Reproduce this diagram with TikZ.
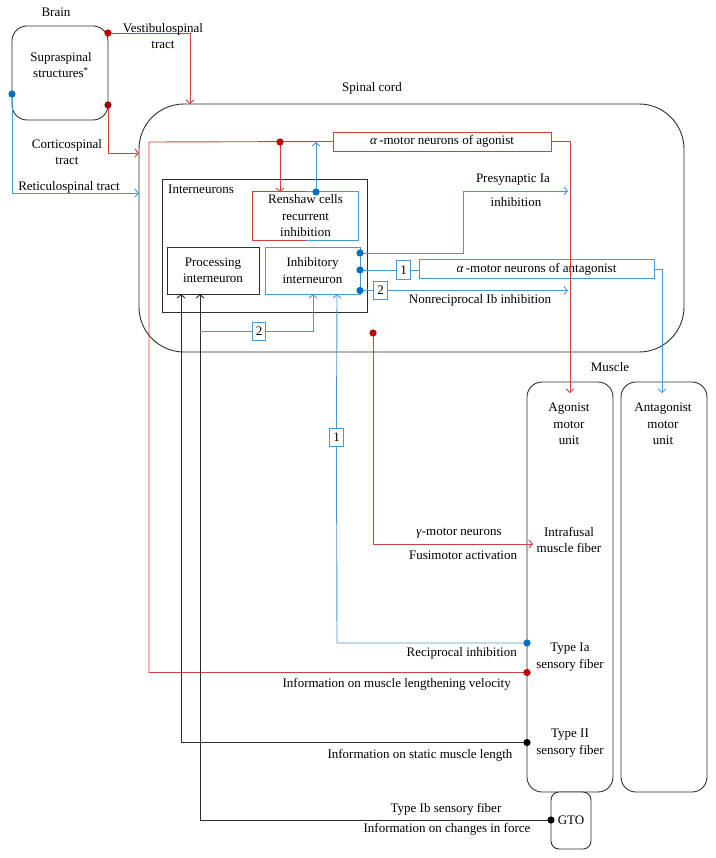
\documentclass[tikz,border=0pt]{standalone}
\usepackage{fontspec}
\setmainfont{Liberation Serif}
\usetikzlibrary{arrows.meta}
\definecolor{rl}{RGB}{208,62,62}
\definecolor{rd}{RGB}{195,0,0}
\definecolor{rdd}{RGB}{160,0,0}
\definecolor{bl}{RGB}{72,152,212}
\definecolor{bd}{RGB}{0,112,192}
\definecolor{kl}{RGB}{45,45,45}
\tikzset{
  ln/.style={line width=0.9pt},
  arr/.style={-{Straight Barb[length=3.5pt,width=8pt,line width=0.9pt]}},
  box/.style={draw=kl, line width=0.9pt, inner sep=0pt, align=center},
  rbox/.style={draw=rl, line width=0.9pt, inner sep=0pt, align=center},
  bbox/.style={draw=bl, line width=0.9pt, inner sep=0pt, align=center},
  numbox/.style={draw=bl, line width=0.9pt, inner sep=0pt, minimum width=13.5pt, minimum height=18.5pt, fill=white},
  lab/.style={inner sep=0pt, align=center},
  dotr/.style={fill=rd, draw=none},
}
\newcommand{\dotat}[2]{\fill[#1] (#2) circle (3.6pt);}
\begin{document}
\begin{tikzpicture}[x=1pt,y=-1pt,font=\fontsize{13}{16.5}\selectfont]
\useasboundingbox (0,0) rectangle (715,858);

% ---------- boxes ----------
\node[box, rounded corners=15pt, minimum width=96pt, minimum height=94pt] (supra) at (60,73) {};
\node[box, rounded corners=45pt, minimum width=545pt, minimum height=248pt] (spinal) at (411.5,228) {};
\node[rbox, fill=white, minimum width=218pt, minimum height=19pt] (agbox) at (442,141.5) {\textit{α}\,-motor neurons of agonist};
\node[box, minimum width=205pt, minimum height=133pt] (inter) at (264.5,245.5) {};
\node[lab, anchor=west] (interlab) at (168,189) {Interneurons};
\node[lab, minimum width=105pt, minimum height=48pt] (ren) at (305.5,216) {Renshaw cells\\recurrent\\inhibition};
\draw[ln, rl] (ren.north) -- (ren.north west) -- (ren.south west) -- (ren.south);
\draw[ln, bl] (ren.north) -- (ren.north east) -- (ren.south east) -- (ren.south);
\node[box, minimum width=92pt, minimum height=47pt] (proc) at (213,270.5) {Processing\\interneuron};
\node[bbox, minimum width=95pt, minimum height=47pt] (inhib) at (312.5,270.5) {Inhibitory\\interneuron};
\node[bbox, fill=white, minimum width=235pt, minimum height=19pt] (antbox) at (536.5,269) {\textit{α}\,-motor neurons of antagonist};
\node[numbox] (n1a) at (403.5,270) {1};
\node[numbox] (n2a) at (380.5,290.5) {2};
\node[numbox] (n2b) at (259,331.5) {2};
\node[numbox] (n1b) at (336.5,437.5) {1};
\node[box, rounded corners=15pt, minimum width=86pt, minimum height=410pt] (agmu) at (570,587) {};
\node[box, rounded corners=15pt, minimum width=86pt, minimum height=410pt] (antmu) at (664,587) {};
\node[box, fill=white, rounded corners=8pt, minimum width=40pt, minimum height=57pt] (gto) at (571,820.5) {GTO};

% ---------- coordinates ----------
\coordinate (vs) at (108,33);
\coordinate (cs) at (108,105);
\coordinate (rs) at (12,94);
\coordinate (rdot) at (280,142);
\coordinate (bdot) at (316,192);
\coordinate (i1) at (360,253);
\coordinate (i2) at (360,270);
\coordinate (i3) at (360,290.5);
\coordinate (iaB) at (527,643);
\coordinate (iaR) at (527,672.5);
\coordinate (t2) at (527,742.5);
\coordinate (ib) at (551,820);
\coordinate (gam) at (373,333);

% ---------- connectors ----------
% descending tracts
\draw[ln, rl, arr] (vs) -- (190,33) -- (190,104);
\draw[ln, rl, arr] (cs) -- (108,153) -- (139,153);
\draw[ln, bl, arr] (rs) -- (12,193) -- (139,193);
% alpha agonist loop
\draw[ln, rl] (iaR) -- (149,672.5) -- (149,142) -- (agbox.west);
\draw[ln, rl, arr] (rdot) -- (280,192);
\draw[ln, bl, arr] (bdot) -- (316,142);
\draw[ln, rl, arr] (agbox.east) -- (570,141.5) -- (570,393);
% inhibitory interneuron outputs
\draw[ln, bl] (i1) -- (i3);
\draw[ln, bl, arr] (i1) -- (463,253) -- (463,191) -- (568,191);
\draw[ln, bl] (i2) -- (n1a.west);
\draw[ln, bl] (n1a.east) -- (antbox.west |- n1a.east);
\draw[ln, bl, arr] (antbox.east) -- (662,269) -- (662,393);
\draw[ln, bl] (i3) -- (n2a.west);
\draw[ln, bl, arr] (n2a.east) -- (568,290.5);
% sensory afferents
\draw[ln, kl, arr] (t2) -- (181,742.5) -- (181,294);
\draw[ln, kl, arr] (ib) -- (200,820) -- (200,294);
\draw[ln, bl] (200,331.5) -- (n2b.west);
\draw[ln, bl, arr] (n2b.east) -- (313,331.5) -- (313,294);
\draw[ln, bl] (iaB) -- (337,643) -- (n1b.south);
\draw[ln, bl, arr] (n1b.north) -- (337,294);
\draw[ln, rl, arr] (gam) -- (373,544) -- (533,544);

% ---------- dots ----------
\dotat{rd}{vs}
\dotat{rdd}{cs}
\dotat{bd}{rs}
\dotat{rd}{rdot}
\dotat{bd}{bdot}
\dotat{bd}{i1}
\dotat{bd}{i2}
\dotat{bd}{i3}
\dotat{bd}{iaB}
\dotat{rd}{iaR}
\dotat{black}{t2}
\dotat{black}{ib}
\dotat{rd}{gam}

% ---------- labels ----------
\node[lab] (brain) at (56,12) {Brain};
\node[lab] (supralab) at (61,65) {Supraspinal\\structures\textsuperscript{*}};
\node[lab] (vestlab) at (163,36) {Vestibulospinal\\tract};
\node[lab] (cortlab) at (67,152) {Corticospinal\\tract};
\node[lab] (retlab) at (69,187) {Reticulospinal tract};
\node[lab] (spinlab) at (372,88) {Spinal cord};
\node[lab] (presy1) at (513,180) {Presynaptic Ia};
\node[lab] (presy2) at (516,202) {inhibition};
\node[lab] (nonrec) at (480,300) {Nonreciprocal Ib inhibition};
\node[lab] (muscle) at (610,367) {Muscle};
\node[lab] (aglab) at (569,424) {Agonist\\motor\\unit};
\node[lab] (antlab) at (663,424) {Antagonist\\motor\\unit};
\node[lab] (gamlab) at (459,533) {\textit{γ}-motor neurons};
\node[lab] (fuslab) at (463,555) {Fusimotor activation};
\node[lab] (intlab) at (569,540) {Intrafusal\\muscle fiber};
\node[lab] (ialab) at (570,657) {Type Ia\\sensory fiber};
\node[lab, anchor=east] (reclab) at (517,653) {Reciprocal inhibition};
\node[lab, anchor=east] (vellab) at (511,684) {Information on muscle lengthening velocity};
\node[lab] (t2lab) at (570,743) {Type II\\sensory fiber};
\node[lab] (statlab) at (420,755) {Information on static muscle length};
\node[lab] (iblab) at (446,809) {Type Ib sensory fiber};
\node[lab] (forcelab) at (447,829) {Information on changes in force};
\end{tikzpicture}
\end{document}
